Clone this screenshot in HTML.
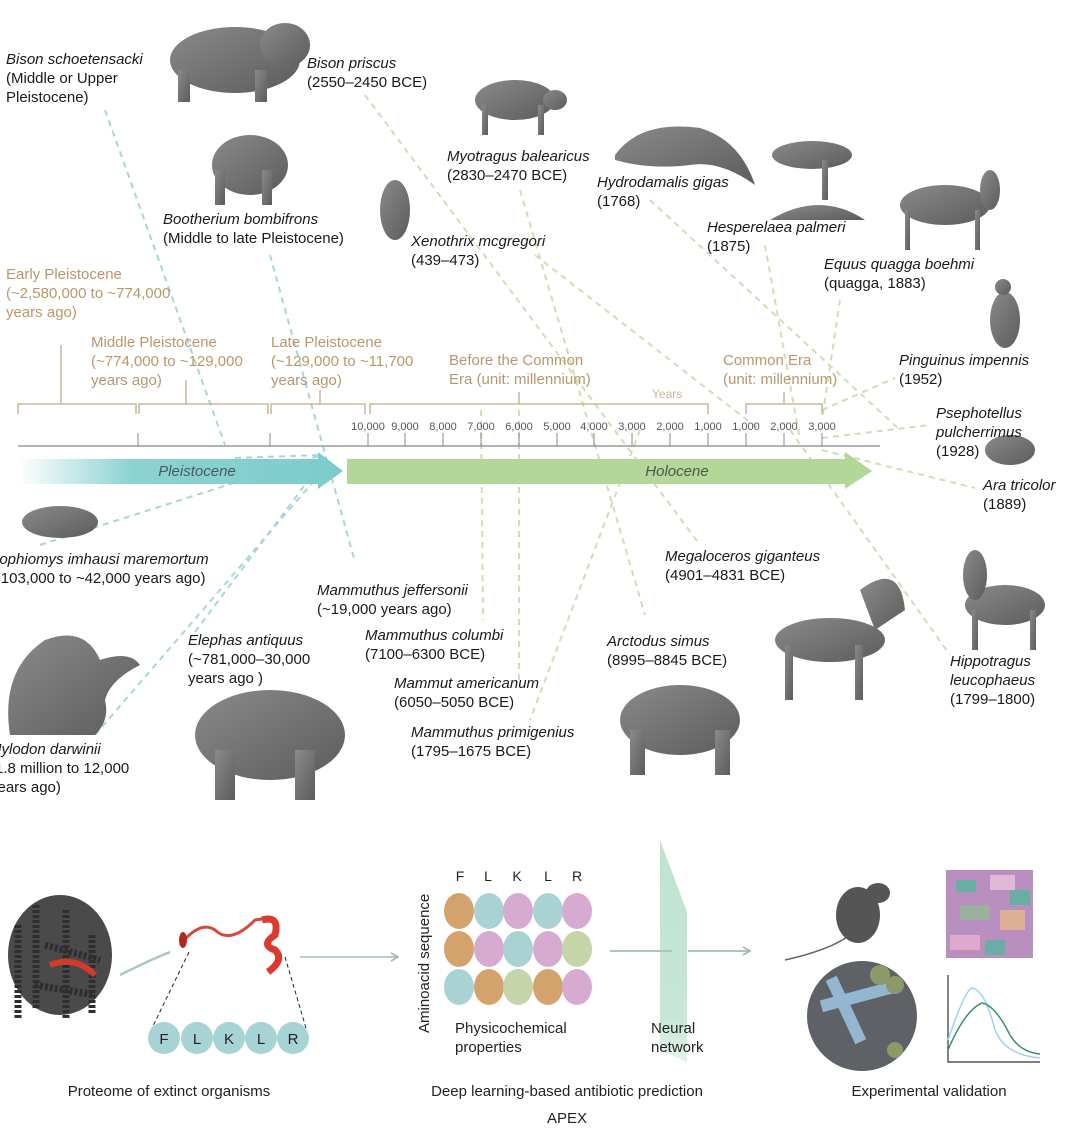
<!DOCTYPE html>
<html><head><meta charset="utf-8"><style>
html,body{margin:0;padding:0;background:#fff;}
svg{display:block;font-family:"Liberation Sans",sans-serif;}
.sp{font-style:italic;font-size:15px;fill:#1a1a1a}
.dt{font-size:15px;fill:#1a1a1a}
.era{font-size:15px;fill:#b9976b}
.tk{font-size:11px;fill:#555}
.sil{fill:url(#gr)}
.bl{stroke:#a8d5da;stroke-width:2;stroke-dasharray:6 5;fill:none}
.gn{stroke:#cde0b5;stroke-width:2;stroke-dasharray:6 5;fill:none}
.br{stroke:#c2aa88;stroke-width:1.3;fill:none}
</style></head><body>
<svg width="1082" height="1135" viewBox="0 0 1082 1135">
<defs>
<linearGradient id="gr" x1="0" y1="0" x2="1" y2="1"><stop offset="0" stop-color="#8a8a8a"/><stop offset="1" stop-color="#5c5c5c"/></linearGradient>
<linearGradient id="pl" x1="0" x2="1"><stop offset="0" stop-color="#fff"/><stop offset="0.35" stop-color="#8dd2d2"/><stop offset="1" stop-color="#7ccccc"/></linearGradient>
<linearGradient id="nn" x1="0" y1="0" x2="0" y2="1"><stop offset="0" stop-color="#bfe3d2"/><stop offset="0.8" stop-color="#c6e6d6"/><stop offset="1" stop-color="#e4f3ec"/></linearGradient>
</defs>

<!-- connectors -->
<path class="bl" d="M105 110 L225 445"/>
<path class="bl" d="M270 255 L355 562"/>
<path class="bl" d="M40 545 L318 456"/>
<path class="bl" d="M195 632 L325 458"/>
<path class="bl" d="M95 735 L332 460"/>
<path class="bl" d="M235 458 L320 455"/>
<path class="gn" d="M365 95 L700 545"/>
<path class="gn" d="M520 190 L645 615"/>
<path class="gn" d="M650 200 L900 430"/>
<path class="gn" d="M535 255 L760 430"/>
<path class="gn" d="M765 245 L800 440"/>
<path class="gn" d="M840 300 L822 420"/>
<path class="gn" d="M822 410 L895 378"/>
<path class="gn" d="M822 438 L930 425"/>
<path class="gn" d="M822 450 L975 488"/>
<path class="gn" d="M790 430 L950 655"/>
<path class="gn" d="M481 410 L483 620"/>
<path class="gn" d="M519 410 L519 680"/>
<path class="gn" d="M640 430 L530 720"/>

<!-- timeline brackets -->
<path class="br" d="M18 414 V404 H136 V414 M61 404 V345"/>
<path class="br" d="M139 414 V404 H268 V414 M186 404 V380"/>
<path class="br" d="M271 414 V404 H365 V414 M320 404 V390"/>
<path class="br" d="M370 414 V404 H708 V414 M519 404 V392"/>
<path class="br" d="M746 414 V404 H822 V414 M784 404 V392"/>
<line x1="18" y1="446" x2="880" y2="446" stroke="#9a9a9a" stroke-width="1.5"/>
<g stroke="#888" stroke-width="1">
<line x1="138" y1="433" x2="138" y2="446"/><line x1="270" y1="433" x2="270" y2="446"/>
<line x1="368" y1="433" x2="368" y2="446"/><line x1="405" y1="433" x2="405" y2="446"/><line x1="443" y1="433" x2="443" y2="446"/><line x1="481" y1="433" x2="481" y2="446"/><line x1="519" y1="433" x2="519" y2="446"/><line x1="557" y1="433" x2="557" y2="446"/><line x1="594" y1="433" x2="594" y2="446"/><line x1="632" y1="433" x2="632" y2="446"/><line x1="670" y1="433" x2="670" y2="446"/><line x1="708" y1="433" x2="708" y2="446"/><line x1="746" y1="433" x2="746" y2="446"/><line x1="784" y1="433" x2="784" y2="446"/><line x1="822" y1="433" x2="822" y2="446"/>
</g>
<g class="tk" text-anchor="middle">
<text x="368" y="430">10,000</text><text x="405" y="430">9,000</text><text x="443" y="430">8,000</text><text x="481" y="430">7,000</text><text x="519" y="430">6,000</text><text x="557" y="430">5,000</text><text x="594" y="430">4,000</text><text x="632" y="430">3,000</text><text x="670" y="430">2,000</text><text x="708" y="430">1,000</text><text x="746" y="430">1,000</text><text x="784" y="430">2,000</text><text x="822" y="430">3,000</text>
</g>
<text x="652" y="398" style="font-size:12px;fill:#c8b59a">Years</text>

<!-- era arrows -->
<polygon points="18,459 318,459 318,452 343,471 318,489 318,484 18,484" fill="url(#pl)"/>
<polygon points="347,459 845,459 845,452 872,471 845,489 845,484 347,484" fill="#b3d699"/>
<text x="197" y="476" text-anchor="middle" style="font-size:15px;font-style:italic;fill:#4a5a5c">Pleistocene</text>
<text x="677" y="476" text-anchor="middle" style="font-size:15px;font-style:italic;fill:#4d5a45">Holocene</text>

<!-- era labels -->
<text class="era"><tspan x="6" y="279">Early Pleistocene</tspan><tspan x="6" y="298">(~2,580,000 to ~774,000</tspan><tspan x="6" y="317">years ago)</tspan></text>
<text class="era"><tspan x="91" y="347">Middle Pleistocene</tspan><tspan x="91" y="366">(~774,000 to ~129,000</tspan><tspan x="91" y="385">years ago)</tspan></text>
<text class="era"><tspan x="271" y="347">Late Pleistocene</tspan><tspan x="271" y="366">(~129,000 to ~11,700</tspan><tspan x="271" y="385">years ago)</tspan></text>
<text class="era"><tspan x="449" y="365">Before the Common</tspan><tspan x="449" y="384">Era (unit: millennium)</tspan></text>
<text class="era"><tspan x="723" y="365">Common Era</tspan><tspan x="723" y="384">(unit: millennium)</tspan></text>

<!-- silhouettes -->
<g class="sil">
<ellipse cx="235" cy="60" rx="65" ry="33"/><ellipse cx="285" cy="45" rx="25" ry="22"/><rect x="178" y="70" width="12" height="32"/><rect x="255" y="70" width="12" height="32"/>
<ellipse cx="250" cy="165" rx="38" ry="30"/><rect x="215" y="170" width="10" height="35"/><rect x="262" y="170" width="10" height="35"/>
<ellipse cx="515" cy="100" rx="40" ry="20"/><ellipse cx="555" cy="100" rx="12" ry="10"/><rect x="482" y="105" width="6" height="30"/><rect x="538" y="105" width="6" height="30"/>
<ellipse cx="395" cy="210" rx="15" ry="30"/>
<path d="M615 155 Q640 120 700 128 Q740 140 755 185 Q720 160 690 165 Q650 170 615 160 Z"/>
<ellipse cx="812" cy="155" rx="40" ry="14"/><rect x="822" y="160" width="6" height="40"/><path d="M770 220 Q820 190 865 220 Z"/>
<ellipse cx="945" cy="205" rx="45" ry="20"/><ellipse cx="990" cy="190" rx="10" ry="20"/><rect x="905" y="210" width="5" height="40"/><rect x="975" y="210" width="5" height="40"/>
<ellipse cx="1005" cy="320" rx="15" ry="28"/><ellipse cx="1003" cy="287" rx="8" ry="8"/>
<ellipse cx="1010" cy="450" rx="25" ry="15"/>
<ellipse cx="60" cy="522" rx="38" ry="16"/>
<path d="M10 735 Q0 670 45 640 Q85 625 100 660 Q130 650 140 665 Q110 680 105 700 Q110 720 95 735 Z"/>
<ellipse cx="270" cy="735" rx="75" ry="45"/><rect x="215" y="750" width="20" height="50"/><rect x="295" y="750" width="20" height="50"/>
<ellipse cx="680" cy="720" rx="60" ry="35"/><rect x="630" y="730" width="15" height="45"/><rect x="715" y="730" width="15" height="45"/>
<ellipse cx="830" cy="640" rx="55" ry="22"/><rect x="785" y="645" width="8" height="55"/><rect x="855" y="645" width="8" height="55"/><path d="M860 590 Q900 560 905 610 L875 630 Z"/>
<ellipse cx="1005" cy="605" rx="40" ry="20"/><ellipse cx="975" cy="575" rx="12" ry="25"/><rect x="972" y="610" width="6" height="40"/><rect x="1030" y="610" width="6" height="40"/>
</g>

<!-- species labels -->
<text><tspan class="sp" x="6" y="64">Bison schoetensacki</tspan><tspan class="dt" x="6" y="83">(Middle or Upper</tspan><tspan class="dt" x="6" y="102">Pleistocene)</tspan></text>
<text><tspan class="sp" x="307" y="68">Bison priscus</tspan><tspan class="dt" x="307" y="87">(2550–2450 BCE)</tspan></text>
<text><tspan class="sp" x="447" y="161">Myotragus balearicus</tspan><tspan class="dt" x="447" y="180">(2830–2470 BCE)</tspan></text>
<text><tspan class="sp" x="597" y="187">Hydrodamalis gigas</tspan><tspan class="dt" x="597" y="206">(1768)</tspan></text>
<text><tspan class="sp" x="707" y="232">Hesperelaea palmeri</tspan><tspan class="dt" x="707" y="251">(1875)</tspan></text>
<text><tspan class="sp" x="163" y="224">Bootherium bombifrons</tspan><tspan class="dt" x="163" y="243">(Middle to late Pleistocene)</tspan></text>
<text><tspan class="sp" x="411" y="246">Xenothrix mcgregori</tspan><tspan class="dt" x="411" y="265">(439–473)</tspan></text>
<text><tspan class="sp" x="824" y="269">Equus quagga boehmi</tspan><tspan class="dt" x="824" y="288">(quagga, 1883)</tspan></text>
<text><tspan class="sp" x="899" y="365">Pinguinus impennis</tspan><tspan class="dt" x="899" y="384">(1952)</tspan></text>
<text><tspan class="sp" x="936" y="418">Psephotellus</tspan><tspan class="sp" x="936" y="437">pulcherrimus</tspan><tspan class="dt" x="936" y="456">(1928)</tspan></text>
<text><tspan class="sp" x="983" y="490">Ara tricolor</tspan><tspan class="dt" x="983" y="509">(1889)</tspan></text>
<text><tspan class="sp" x="-9" y="564">Lophiomys imhausi maremortum</tspan><tspan class="dt" x="-13" y="583">(~103,000 to ~42,000 years ago)</tspan></text>
<text><tspan class="sp" x="665" y="561">Megaloceros giganteus</tspan><tspan class="dt" x="665" y="580">(4901–4831 BCE)</tspan></text>
<text><tspan class="sp" x="317" y="595">Mammuthus jeffersonii</tspan><tspan class="dt" x="317" y="614">(~19,000 years ago)</tspan></text>
<text><tspan class="sp" x="365" y="640">Mammuthus columbi</tspan><tspan class="dt" x="365" y="659">(7100–6300 BCE)</tspan></text>
<text><tspan class="sp" x="607" y="646">Arctodus simus</tspan><tspan class="dt" x="607" y="665">(8995–8845 BCE)</tspan></text>
<text><tspan class="sp" x="188" y="645">Elephas antiquus</tspan><tspan class="dt" x="188" y="664">(~781,000–30,000</tspan><tspan class="dt" x="188" y="683">years ago )</tspan></text>
<text><tspan class="sp" x="950" y="666">Hippotragus</tspan><tspan class="sp" x="950" y="685">leucophaeus</tspan><tspan class="dt" x="950" y="704">(1799–1800)</tspan></text>
<text><tspan class="sp" x="394" y="688">Mammut americanum</tspan><tspan class="dt" x="394" y="707">(6050–5050 BCE)</tspan></text>
<text><tspan class="sp" x="411" y="737">Mammuthus primigenius</tspan><tspan class="dt" x="411" y="756">(1795–1675 BCE)</tspan></text>
<text><tspan class="sp" x="-11" y="754">Mylodon darwinii</tspan><tspan class="dt" x="-10" y="773">(1.8 million to 12,000</tspan><tspan class="dt" x="-10" y="792">years ago)</tspan></text>

<!-- bottom: proteome -->
<ellipse cx="60" cy="955" rx="52" ry="60" fill="#4a4a4a"/>
<g stroke="#2e2e2e" stroke-width="7" fill="none" stroke-dasharray="3 2">
<path d="M18 925 V1020 M36 905 V1010 M66 910 V1020 M92 935 V1015 M45 945 L100 960 M35 985 L95 995"/>
</g>
<path d="M50 965 Q75 955 95 975" stroke="#d33a2c" stroke-width="6" fill="none"/>
<path d="M120 975 Q150 960 170 952" stroke="#a9c6c3" stroke-width="2.5" fill="none"/>
<path d="M180 945 Q200 920 215 930 Q230 945 255 920 L268 918" stroke="#d8473a" stroke-width="3" fill="none"/>
<ellipse cx="183" cy="940" rx="4" ry="8" fill="#b0281e"/>
<path d="M262 920 Q280 915 275 935 Q260 945 275 950 Q285 960 268 972" stroke="#dc3a2c" stroke-width="7" fill="none"/>
<path d="M189 952 L152 1028 M285 957 L306 1028" stroke="#222" stroke-width="1" stroke-dasharray="4 3"/>
<g fill="#a8d3d4"><circle cx="164" cy="1038" r="16"/><circle cx="197" cy="1038" r="16"/><circle cx="229" cy="1038" r="16"/><circle cx="261" cy="1038" r="16"/><circle cx="293" cy="1038" r="16"/></g>
<g font-size="15" fill="#222" text-anchor="middle"><text x="164" y="1044">F</text><text x="197" y="1044">L</text><text x="229" y="1044">K</text><text x="261" y="1044">L</text><text x="293" y="1044">R</text></g>
<path d="M300 957 H396" stroke="#b5cfcc" stroke-width="2"/><path d="M391 953 L398 957 L391 961" stroke="#8fb3b0" fill="none" stroke-width="1.5"/>

<!-- APEX -->
<text transform="translate(429,1033) rotate(-90)" style="font-size:15px;fill:#222">Aminoacid sequence</text>
<g font-size="14" fill="#222" text-anchor="middle"><text x="460" y="881">F</text><text x="488" y="881">L</text><text x="517" y="881">K</text><text x="548" y="881">L</text><text x="577" y="881">R</text></g>
<g>
<ellipse cx="459" cy="911" rx="15" ry="18" fill="#d4a36d"/><ellipse cx="489" cy="911" rx="15" ry="18" fill="#a9d3d3"/><ellipse cx="518" cy="911" rx="15" ry="18" fill="#d7aad2"/><ellipse cx="548" cy="911" rx="15" ry="18" fill="#a9d3d3"/><ellipse cx="577" cy="911" rx="15" ry="18" fill="#d7aad2"/>
<ellipse cx="459" cy="949" rx="15" ry="18" fill="#d4a36d"/><ellipse cx="489" cy="949" rx="15" ry="18" fill="#d7aad2"/><ellipse cx="518" cy="949" rx="15" ry="18" fill="#a9d3d3"/><ellipse cx="548" cy="949" rx="15" ry="18" fill="#d7aad2"/><ellipse cx="577" cy="949" rx="15" ry="18" fill="#c6d4aa"/>
<ellipse cx="459" cy="987" rx="15" ry="18" fill="#a9d3d3"/><ellipse cx="489" cy="987" rx="15" ry="18" fill="#d4a36d"/><ellipse cx="518" cy="987" rx="15" ry="18" fill="#c6d4aa"/><ellipse cx="548" cy="987" rx="15" ry="18" fill="#d4a36d"/><ellipse cx="577" cy="987" rx="15" ry="18" fill="#d7aad2"/>
</g>
<text style="font-size:15px;fill:#222"><tspan x="455" y="1033">Physicochemical</tspan><tspan x="455" y="1052">properties</tspan></text>
<polygon points="660,840 687,912 687,1062 660,1050" fill="url(#nn)"/>
<path d="M610 951 H672" stroke="#a9c6c3" stroke-width="2"/>
<path d="M688 951 H748" stroke="#a9c6c3" stroke-width="2"/><path d="M743 947 L750 951 L743 955" stroke="#8fb3b0" fill="none" stroke-width="1.5"/>
<text style="font-size:15px;fill:#222"><tspan x="651" y="1033">Neural</tspan><tspan x="651" y="1052">network</tspan></text>

<!-- validation -->
<path d="M785 960 Q830 950 850 935" stroke="#666" stroke-width="1.5" fill="none"/>
<ellipse cx="858" cy="915" rx="22" ry="28" fill="#555"/><ellipse cx="878" cy="893" rx="12" ry="10" fill="#555"/>
<g>
<rect x="946" y="870" width="87" height="88" fill="#b88fbf"/>
<rect x="956" y="880" width="20" height="12" fill="#6aaea3"/><rect x="990" y="875" width="25" height="15" fill="#e0b8d8"/><rect x="960" y="905" width="30" height="15" fill="#8fbf8f" opacity=".7"/><rect x="1000" y="910" width="25" height="20" fill="#e6b88c" opacity=".8"/><rect x="950" y="935" width="30" height="15" fill="#e0a8cc"/><rect x="985" y="940" width="20" height="15" fill="#6aaea3"/><rect x="1010" y="890" width="20" height="15" fill="#6aaea3"/>
</g>
<circle cx="862" cy="1016" r="55" fill="#5e6266"/>
<g fill="#9cc0dc" opacity=".9"><rect x="820" y="990" width="80" height="12" transform="rotate(-15 860 996)"/><rect x="840" y="975" width="12" height="70" transform="rotate(-25 846 1010)"/></g>
<g fill="#8c9a6a"><circle cx="880" cy="975" r="10"/><circle cx="895" cy="985" r="9"/><circle cx="895" cy="1050" r="8"/></g>
<path d="M948 975 V1062 H1040" stroke="#333" stroke-width="1.2" fill="none"/>
<path d="M948 1040 Q965 990 972 988 Q985 990 995 1030 Q1005 1055 1040 1058" stroke="#9ad2ee" stroke-width="1.5" fill="none"/>
<path d="M948 1050 Q965 1010 982 1003 Q995 1005 1010 1035 Q1020 1052 1040 1054" stroke="#3a8f6a" stroke-width="1.5" fill="none"/>

<g style="font-size:15px;fill:#222" text-anchor="middle">
<text x="169" y="1096">Proteome of extinct organisms</text>
<text x="567" y="1096">Deep learning-based antibiotic prediction</text>
<text x="567" y="1123">APEX</text>
<text x="929" y="1096">Experimental validation</text>
</g>
</svg>
</body></html>
